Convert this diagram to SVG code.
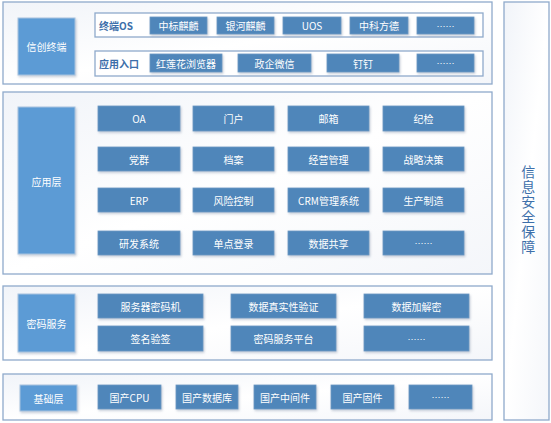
<svg xmlns="http://www.w3.org/2000/svg" width="551" height="423" viewBox="0 0 551 423">
<defs>
<linearGradient id="pg" x1="0" y1="0" x2="1" y2="1">
<stop offset="0" stop-color="#F1F4F9"/>
<stop offset="0.5" stop-color="#FFFFFF"/>
<stop offset="1" stop-color="#F4F6FA"/>
</linearGradient>
<filter id="sh" x="-10%" y="-10%" width="130%" height="140%">
<feDropShadow dx="1" dy="1.5" stdDeviation="1" flood-color="#8090A8" flood-opacity="0.45"/>
</filter>
</defs>
<style>
.panel{fill:url(#pg);stroke:#8FAACB;stroke-width:1.3}
.sub{fill:#FFFFFF;stroke:#8FAACB;stroke-width:1.3}
.box{fill:#4F86BA;stroke:#6C98C3;stroke-width:0.8;filter:url(#sh)}
.lbl{fill:#5B9BD5;stroke:#A9C3DF;stroke-width:1;filter:url(#sh)}
text{font-family:"Noto Sans CJK SC","Liberation Sans",sans-serif;font-size:10px;fill:#FFFFFF;text-anchor:middle;dominant-baseline:central}
.sublbl{fill:#3D6FAA;font-weight:bold;text-anchor:start}
.side{fill:#3D6FAA;font-size:14px;writing-mode:vertical-rl;letter-spacing:1px;dominant-baseline:middle}
.dots{font-family:"Liberation Sans",sans-serif;font-size:9px}
</style>
<g id="connectors"/>
<g id="right">
<rect class="panel" x="504" y="2" width="45" height="418"/>
<text class="side" x="526" y="210">信息安全保障</text>
</g>
<g id="terminal">
<rect class="panel" x="3" y="2" width="489" height="82"/>
<rect class="lbl" x="18" y="18" width="57" height="57"/>
<text x="46.5" y="46.5">信创终端</text>
<rect class="sub" x="95" y="13" width="388" height="24"/>
<text class="sublbl" x="99" y="25">终端OS</text>
<rect class="box" x="150" y="17" width="57" height="17"/><text x="178.5" y="25.5">中标麒麟</text>
<rect class="box" x="217" y="17" width="57" height="17"/><text x="245.5" y="25.5">银河麒麟</text>
<rect class="box" x="283" y="17" width="58" height="17"/><text x="312" y="25.5">UOS</text>
<rect class="box" x="350" y="17" width="58" height="17"/><text x="379" y="25.5">中科方德</text>
<rect class="box" x="417" y="17" width="57" height="17"/><text class="dots" x="445.5" y="25.5">······</text>
<rect class="sub" x="95" y="51" width="388" height="25"/>
<text class="sublbl" x="99" y="63.5">应用入口</text>
<rect class="box" x="150" y="54" width="72" height="18"/><text x="186" y="63">红莲花浏览器</text>
<rect class="box" x="238" y="54" width="73" height="18"/><text x="274.5" y="63">政企微信</text>
<rect class="box" x="327" y="54" width="72" height="18"/><text x="363" y="63">钉钉</text>
<rect class="box" x="417" y="54" width="57" height="18"/><text class="dots" x="445.5" y="63">······</text>
</g>
<g id="app">
<rect class="panel" x="3" y="92" width="489" height="182"/>
<rect class="lbl" x="18" y="107" width="57" height="147"/>
<text x="46.5" y="181">应用层</text>
<rect class="box" x="98" y="106" width="82" height="25"/><text x="139" y="118.5">OA</text>
<rect class="box" x="193" y="106" width="81" height="25"/><text x="233.5" y="118.5">门户</text>
<rect class="box" x="288" y="106" width="81" height="25"/><text x="328.5" y="118.5">邮箱</text>
<rect class="box" x="383" y="106" width="81" height="25"/><text x="423.5" y="118.5">纪检</text>
<rect class="box" x="98" y="147" width="82" height="24"/><text x="139" y="159">党群</text>
<rect class="box" x="193" y="147" width="81" height="24"/><text x="233.5" y="159">档案</text>
<rect class="box" x="288" y="147" width="81" height="24"/><text x="328.5" y="159">经营管理</text>
<rect class="box" x="383" y="147" width="81" height="24"/><text x="423.5" y="159">战略决策</text>
<rect class="box" x="98" y="188" width="82" height="24"/><text x="139" y="200">ERP</text>
<rect class="box" x="193" y="188" width="81" height="24"/><text x="233.5" y="200">风险控制</text>
<rect class="box" x="288" y="188" width="81" height="24"/><text x="328.5" y="200">CRM管理系统</text>
<rect class="box" x="383" y="188" width="81" height="24"/><text x="423.5" y="200">生产制造</text>
<rect class="box" x="98" y="231" width="82" height="24"/><text x="139" y="243">研发系统</text>
<rect class="box" x="193" y="231" width="81" height="24"/><text x="233.5" y="243">单点登录</text>
<rect class="box" x="288" y="231" width="81" height="24"/><text x="328.5" y="243">数据共享</text>
<rect class="box" x="383" y="231" width="81" height="24"/><text class="dots" x="423.5" y="243">······</text>
</g>
<g id="crypto">
<rect class="panel" x="3" y="286" width="489" height="74"/>
<rect class="lbl" x="18" y="294" width="57" height="58"/>
<text x="46.5" y="323">密码服务</text>
<rect class="box" x="98" y="294" width="105" height="24"/><text x="150.5" y="306">服务器密码机</text>
<rect class="box" x="231" y="294" width="105" height="24"/><text x="283.5" y="306">数据真实性验证</text>
<rect class="box" x="364" y="294" width="105" height="24"/><text x="416.5" y="306">数据加解密</text>
<rect class="box" x="98" y="326" width="105" height="25"/><text x="150.5" y="338.5">签名验签</text>
<rect class="box" x="231" y="326" width="105" height="25"/><text x="283.5" y="338.5">密码服务平台</text>
<rect class="box" x="364" y="326" width="105" height="25"/><text class="dots" x="416.5" y="338.5">······</text>
</g>
<g id="base">
<rect class="panel" x="3" y="374" width="489" height="46"/>
<rect class="lbl" x="20" y="385" width="57" height="26"/>
<text x="48.5" y="398">基础层</text>
<rect class="box" x="98" y="385" width="63" height="24"/><text x="129.5" y="397">国产CPU</text>
<rect class="box" x="176" y="385" width="62" height="24"/><text x="207" y="397">国产数据库</text>
<rect class="box" x="254" y="385" width="62" height="24"/><text x="285" y="397">国产中间件</text>
<rect class="box" x="331" y="385" width="63" height="24"/><text x="362.5" y="397">国产固件</text>
<rect class="box" x="409" y="385" width="63" height="24"/><text class="dots" x="440.5" y="397">······</text>
</g>
</svg>
